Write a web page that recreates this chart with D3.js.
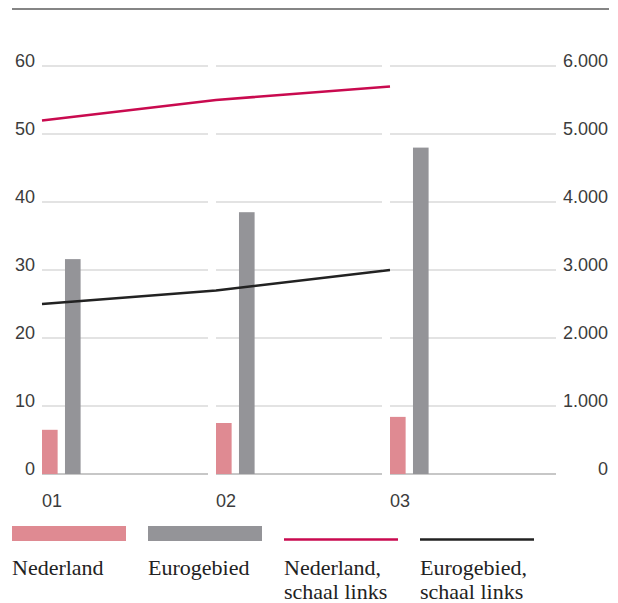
<!DOCTYPE html>
<html>
<head>
<meta charset="utf-8">
<script src="https://cdn.jsdelivr.net/npm/d3@7/dist/d3.min.js"></script>
<style>
  html, body { margin: 0; padding: 0; background: #fff; }
  svg { display: block; }
</style>
</head>
<body>
<svg id="chart" width="618" height="603"></svg>
<script>
// Years on the category axis
const categories = ["01", "02", "03"];
// Bars, right-hand scale
const nederlandBars = [650, 750, 840];
const eurogebiedBars = [3160, 3850, 4800];
// Lines, left-hand scale
const nederlandLine = [52, 55, 57];
const eurogebiedLine = [25, 27, 30];
// Tick labels
const leftTicks = [0, 10, 20, 30, 40, 50, 60];
const rightTicks = [0, 1000, 2000, 3000, 4000, 5000, 6000];
const rightTickLabels = ["0", "1.000", "2.000", "3.000", "4.000", "5.000", "6.000"];
// Legend
const legendLabels = [["Nederland"], ["Eurogebied"], ["Nederland,", "schaal links"], ["Eurogebied,", "schaal links"]];

const colors = { nlBar: "#df8a92", euBar: "#949498", nlLine: "#c90a4f", euLine: "#222222" };

const svg = d3.select("#chart");
const sansFont = "'Liberation Sans', Arial, sans-serif";
const serifFont = "'Liberation Serif', 'Times New Roman', serif";

const yLeft = d3.scaleLinear().domain([0, 60]).range([474, 66]);
const yRight = d3.scaleLinear().domain([0, 6000]).range([474, 66]);
const x = d3.scaleBand().domain(categories).range([42, 556]).paddingInner(8 / 174).paddingOuter(0);
const sub = d3.scaleBand().domain(["nl", "eu"]).range([0, 38.6]).paddingInner(0.32);

// Rule across the top
svg.append("line").attr("x1", 12).attr("x2", 609).attr("y1", 9).attr("y2", 9)
  .attr("stroke", "#858585").attr("stroke-width", 2);

// Gridlines, split per category
const grid = svg.append("g");
categories.forEach(c => {
  leftTicks.forEach(t => {
    grid.append("line")
      .attr("x1", x(c)).attr("x2", x(c) + x.bandwidth())
      .attr("y1", yLeft(t)).attr("y2", yLeft(t))
      .attr("stroke", t === 0 ? "#b5b5b5" : "#c8c8c8")
      .attr("stroke-width", t === 0 ? 1.5 : 1.2);
  });
});

// Left axis labels
const leftAxis = d3.axisLeft(yLeft).tickValues(leftTicks).tickSize(0).tickPadding(0);
svg.append("g").attr("transform", "translate(35,0)").call(leftAxis)
  .call(g => g.select(".domain").remove())
  .selectAll("text")
  .attr("dy", 0).attr("font-family", sansFont).attr("font-size", 18).attr("fill", "#3c3c3c");

// Right axis labels
const rightAxis = d3.axisRight(yRight).tickValues(rightTicks)
  .tickFormat((d, i) => rightTickLabels[i]).tickSize(0).tickPadding(0);
svg.append("g").attr("transform", "translate(608,0)").call(rightAxis)
  .call(g => g.select(".domain").remove())
  .selectAll("text")
  .attr("dy", 0).attr("text-anchor", "end").attr("font-family", sansFont)
  .attr("font-size", 18).attr("fill", "#3c3c3c");

// Category labels
const xAxis = d3.axisBottom(x).tickSize(0).tickPadding(0);
svg.append("g").attr("transform", "translate(0,507)").call(xAxis)
  .call(g => g.select(".domain").remove())
  .selectAll(".tick")
  .attr("transform", d => `translate(${x(d)},0)`)
  .select("text")
  .attr("dy", 0).attr("y", 0).attr("text-anchor", "start").attr("font-family", sansFont)
  .attr("font-size", 18).attr("fill", "#3c3c3c");

// Bars
const bars = svg.append("g");
bars.selectAll("rect.nl").data(categories).join("rect")
  .attr("x", c => x(c) + sub("nl")).attr("width", sub.bandwidth())
  .attr("y", (c, i) => yRight(nederlandBars[i]))
  .attr("height", (c, i) => yRight(0) - yRight(nederlandBars[i]))
  .attr("fill", colors.nlBar);
bars.selectAll("rect.eu").data(categories).join("rect")
  .attr("x", c => x(c) + sub("eu")).attr("width", sub.bandwidth())
  .attr("y", (c, i) => yRight(eurogebiedBars[i]))
  .attr("height", (c, i) => yRight(0) - yRight(eurogebiedBars[i]))
  .attr("fill", colors.euBar);

// Lines
const line = d3.line().x(d => x(d[0])).y(d => yLeft(d[1]));
svg.append("path")
  .attr("d", line(categories.map((c, i) => [c, eurogebiedLine[i]])))
  .attr("fill", "none").attr("stroke", colors.euLine).attr("stroke-width", 2.5);
svg.append("path")
  .attr("d", line(categories.map((c, i) => [c, nederlandLine[i]])))
  .attr("fill", "none").attr("stroke", colors.nlLine).attr("stroke-width", 2.5);

// Legend
const legend = svg.append("g");
const legendX = d3.scalePoint().domain(d3.range(4)).range([12, 420]);
legendLabels.forEach((lines, i) => {
  const lx = legendX(i);
  if (i < 2) {
    legend.append("rect").attr("x", lx).attr("y", 526).attr("width", 114).attr("height", 15)
      .attr("fill", i === 0 ? colors.nlBar : colors.euBar);
  } else {
    legend.append("line").attr("x1", lx).attr("x2", lx + 114).attr("y1", 539.5).attr("y2", 539.5)
      .attr("stroke", i === 2 ? colors.nlLine : colors.euLine).attr("stroke-width", 2.5);
  }
  const t = legend.append("text").attr("x", lx).attr("y", 575)
    .attr("font-family", serifFont).attr("font-size", 22).attr("fill", "#222");
  lines.forEach((s, j) => {
    t.append("tspan").attr("x", lx).attr("dy", j === 0 ? 0 : 24).text(s);
  });
});
</script>
</body>
</html>
